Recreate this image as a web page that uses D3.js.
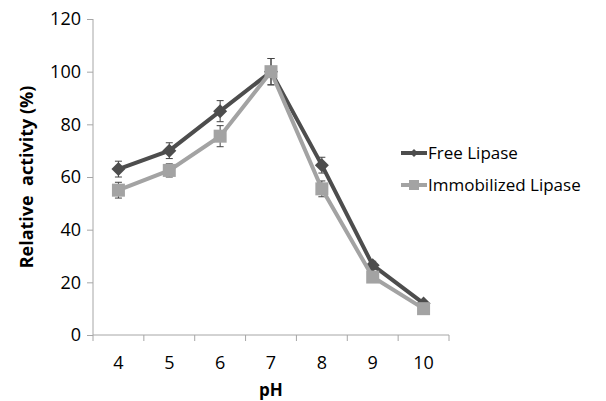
<!DOCTYPE html>
<html><head><meta charset="utf-8">
<script src="https://cdn.jsdelivr.net/npm/d3@7"></script>
<style>body{margin:0;background:#fff}svg{display:block}</style>
</head><body><svg id="c" width="606" height="401"></svg>
<script>
const categories = ["4","5","6","7","8","9","10"];
const freeValues = [63, 70, 85, 100, 64.5, 26.5, 12];
const freeErrors = [3, 3, 4, 5, 3, 1.5, 1];
const immobValues = [55, 62.5, 75.5, 100, 55.5, 22, 10];
const immobErrors = [3, 2.5, 4, 5, 3, 1.5, 1];
const yTicks = [0, 20, 40, 60, 80, 100, 120];
const seriesNames = ["Free Lipase", "Immobilized Lipase"];

const svg = d3.select("#c");
const font = "'Open Sans', 'Liberation Sans', sans-serif";
const x = d3.scaleBand().domain(categories).range([93, 449]);
const y = d3.scaleLinear().domain([0, 120]).range([335, 19]);
const axisColor = "#a6a6a6";

// y axis
const ya = svg.append("g").attr("transform", "translate(93,0)")
  .call(d3.axisLeft(y).tickValues(yTicks).tickSize(6).tickPadding(6));
ya.select(".domain").attr("stroke", axisColor).attr("d", "M0," + y(120) + "V" + y(0));
ya.selectAll(".tick line").attr("stroke", axisColor);
ya.selectAll("text").attr("font-family", font).attr("font-size", 18).attr("fill", "#000");

// x axis
const xa = svg.append("g").attr("transform", "translate(0,335)");
xa.append("line").attr("x1", 93).attr("x2", 449).attr("stroke", axisColor);
const bounds = categories.map(c => x(c)).concat([x.range()[1]]);
xa.selectAll("line.t").data(bounds).enter().append("line").attr("class","t")
  .attr("x1", d => d).attr("x2", d => d).attr("y1", 0).attr("y2", 6).attr("stroke", axisColor);
xa.selectAll("text").data(categories).enter().append("text")
  .attr("x", d => x(d) + x.bandwidth()/2).attr("y", 34)
  .attr("text-anchor", "middle").attr("font-family", font).attr("font-size", 18).text(d => d);

// titles
svg.append("text").attr("transform", "translate(33,177) rotate(-90)").attr("text-anchor","middle")
  .style("white-space", "pre")
  .attr("font-family", font).attr("font-size", 18).attr("font-weight","bold").text("Relative  activity (%)");
svg.append("text").attr("x", 271).attr("y", 396).attr("text-anchor","middle")
  .attr("font-family", font).attr("font-size", 17).attr("font-weight","bold").text("pH");

const cx = c => x(c) + x.bandwidth()/2;
function drawSeries(vals, errs, color, shape) {
  const g = svg.append("g");
  const pts = categories.map((c,i) => ({c, v: vals[i], e: errs[i]}));
  pts.forEach(p => {
    g.append("line").attr("x1", cx(p.c)).attr("x2", cx(p.c)).attr("y1", y(p.v+p.e)).attr("y2", y(p.v-p.e)).attr("stroke", "#444").attr("stroke-width", 1);
    [p.v+p.e, p.v-p.e].forEach(t => g.append("line").attr("x1", cx(p.c)-3.5).attr("x2", cx(p.c)+3.5).attr("y1", y(t)).attr("y2", y(t)).attr("stroke","#444").attr("stroke-width",1));
  });
  g.append("path").datum(pts).attr("fill","none").attr("stroke", color).attr("stroke-width", 4)
    .attr("d", d3.line().x(p => cx(p.c)).y(p => y(p.v)));
  g.selectAll("path.m").data(pts).enter().append("path").attr("class","m")
    .attr("transform", p => `translate(${cx(p.c)},${y(p.v)})`)
    .attr("d", shape === "diamond" ? "M0,-7L7,0L0,7L-7,0Z" : "M-6.5,-6.5H6.5V6.5H-6.5Z")
    .attr("fill", color);
}
drawSeries(freeValues, freeErrors, "#4d4d4d", "diamond");
drawSeries(immobValues, immobErrors, "#a3a3a3", "square");

// legend
const lg = svg.append("g");
[["#4d4d4d","diamond",153],["#a3a3a3","square",185]].forEach((d,i) => {
  lg.append("line").attr("x1", 401).attr("x2", 427).attr("y1", d[2]).attr("y2", d[2]).attr("stroke", d[0]).attr("stroke-width", 4);
  lg.append("path").attr("transform", `translate(414,${d[2]})`)
    .attr("d", d[1] === "diamond" ? "M0,-4L4,0L0,4L-4,0Z" : "M-5,-5H5V5H-5Z").attr("fill", d[0]);
  lg.append("text").attr("x", 428).attr("y", d[2]+6).attr("font-family", font).attr("font-size", 17).text(seriesNames[i]);
});
</script></body></html>
